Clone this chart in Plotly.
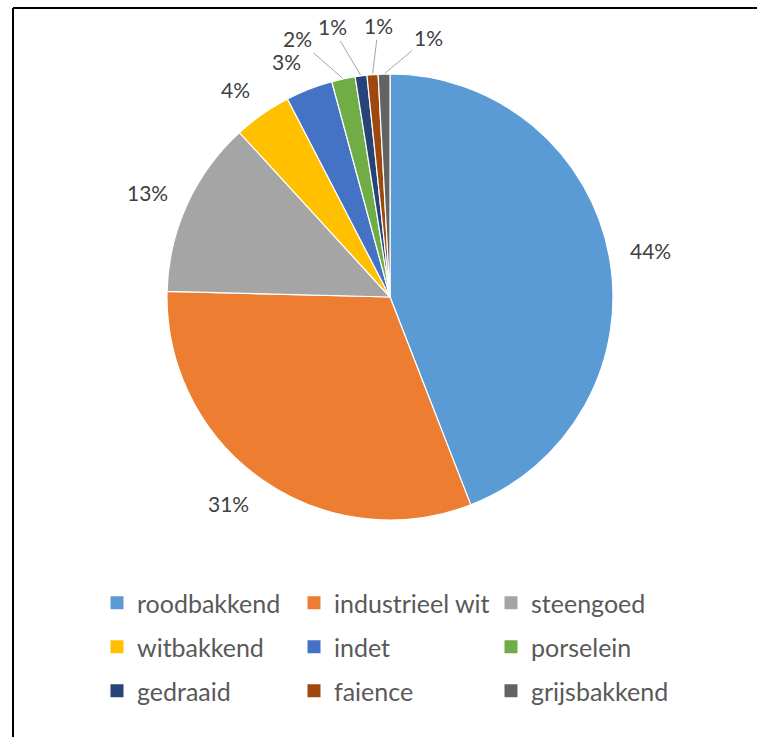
import math
import plotly.graph_objects as go

categories = ["roodbakkend", "industrieel wit", "steengoed", "witbakkend", "indet",
              "porselein", "gedraaid", "faience", "grijsbakkend"]
values = [44.1, 31.3, 12.8, 4.2, 3.4, 1.7, 0.85, 0.8, 0.85]
colors = ["#5B9BD5", "#ED7D31", "#A5A5A5", "#FFC000", "#4472C4",
          "#70AD47", "#264478", "#9E480E", "#636363"]

W, H = 757, 737
CX, CY, R = 390, 297, 223          # pie centre / radius in pixels (layout)
LABEL_GAP = 20                     # gap between rim and label box
HALF_H = 10                        # half label height (px)
N_OUT = 5                          # slices labelled next to the rim
# pixel offsets of the leader-line labels for the four thin slices
label_offsets = [(-46, -40), (-29, -49), (6, -49), (44, -37)]

fig = go.Figure()
fig.add_trace(go.Pie(
    labels=categories,
    values=values,
    sort=False,
    direction="clockwise",
    rotation=0,
    marker=dict(colors=colors, line=dict(color="white", width=1.2)),
    textinfo="none",
    automargin=False,
    showlegend=False,
    domain=dict(x=[(CX - R) / W, (CX + R) / W],
                y=[(H - CY - R) / H, (H - CY + R) / H]),
    hoverinfo="label+percent",
))

# legend entries: three rows of three, one legend per row
legend_names = ["legend", "legend2", "legend3"]
for i, (name, col) in enumerate(zip(categories, colors)):
    fig.add_trace(go.Scatter(
        x=[None], y=[None], mode="markers", name=name,
        marker=dict(symbol="square", size=13, color=col),
        legend=legend_names[i // 3], hoverinfo="skip",
    ))

# percentage labels, placed from the slice angles
total = sum(values)
annotations = []
cum = 0.0
label_font = dict(family="Lato", size=21, color="#404040")
for i, v in enumerate(values):
    mid = (cum + v / 2) / total * 2 * math.pi
    cum += v
    text = f"{round(v / total * 100)}%"
    if i < N_OUT:
        d = R + LABEL_GAP
        px = CX + d * math.sin(mid)
        py = CY - d * math.cos(mid)
        annotations.append(dict(
            x=px / W, y=1 - py / H, xref="paper", yref="paper",
            text=text, showarrow=False,
            xanchor="left" if math.sin(mid) > 0 else "right",
            yanchor="middle", yshift=HALF_H * math.cos(mid),
            borderpad=0, font=label_font,
        ))
    else:
        px = CX + R * math.sin(mid)
        py = CY - R * math.cos(mid)
        ax, ay = label_offsets[i - N_OUT]
        annotations.append(dict(
            x=px / W, y=1 - py / H, xref="paper", yref="paper",
            text=text, showarrow=True,
            ax=ax, ay=ay, arrowhead=0, arrowwidth=1, arrowcolor="#A6A6A6",
            standoff=1, startstandoff=0, font=label_font,
        ))

legend_common = dict(
    orientation="h", xanchor="left", yanchor="middle", x=97 / W,
    entrywidth=152, entrywidthmode="pixels",
    font=dict(family="Lato", size=25, color="#595959"),
    bgcolor="rgba(0,0,0,0)", traceorder="normal",
)
row_centres = [603, 647, 691]

fig.update_layout(
    width=W, height=H,
    margin=dict(l=0, r=0, t=0, b=0),
    paper_bgcolor="white",
    plot_bgcolor="white",
    font=dict(family="Lato", color="#595959"),
    xaxis=dict(visible=False),
    yaxis=dict(visible=False),
    legend=dict(legend_common, y=1 - row_centres[0] / H),
    legend2=dict(legend_common, y=1 - row_centres[1] / H),
    legend3=dict(legend_common, y=1 - row_centres[2] / H),
    annotations=annotations,
    shapes=[
        dict(type="line", xref="paper", yref="paper",
             x0=13 / W, x1=1.02, y0=1 - 8 / H, y1=1 - 8 / H,
             line=dict(color="black", width=2)),
        dict(type="line", xref="paper", yref="paper",
             x0=13 / W, x1=13 / W, y0=1 - 8 / H, y1=-0.02,
             line=dict(color="black", width=2)),
    ],
)

fig.write_html("out.html", config={"displayModeBar": False},
               post_script="document.body.style.margin='0px';")
